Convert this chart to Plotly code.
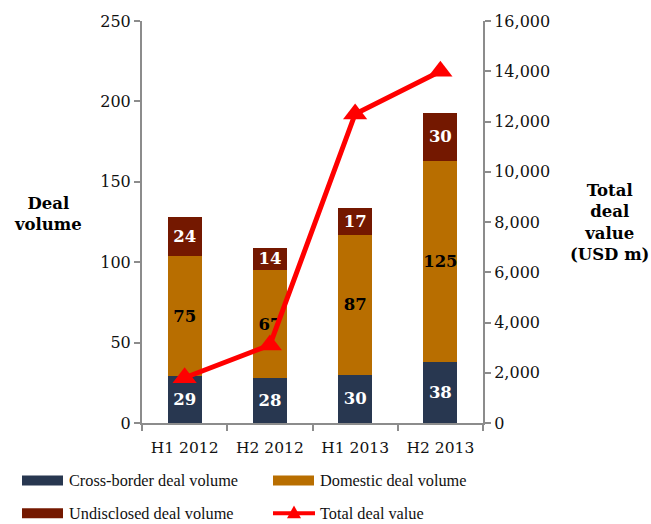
import plotly.graph_objects as go

# Half-year periods
periods = ["H1 2012", "H2 2012", "H1 2013", "H2 2013"]

# Deal volume by type (number of deals)
cross_border = [29, 28, 30, 38]
domestic = [75, 67, 87, 125]
undisclosed = [24, 14, 17, 30]

# Total deal value, USD m
total_value = [1800, 3100, 12300, 14000]

left_ticks = [0, 50, 100, 150, 200, 250]
right_ticks = [0, 2000, 4000, 6000, 8000, 10000, 12000, 14000, 16000]

NAVY = "#283750"
ORANGE = "#B86E00"
MAROON = "#741800"
RED = "#FF0000"
AXIS = "#8C8C8C"
SERIF = "DejaVu Serif, Georgia, serif"
LEGEND_FONT = "Liberation Serif, Times New Roman, serif"

fig = go.Figure()

for name, vals, col, txtcol in [
    ("Cross-border deal volume", cross_border, NAVY, "white"),
    ("Domestic deal volume", domestic, ORANGE, "black"),
    ("Undisclosed deal volume", undisclosed, MAROON, "white"),
]:
    fig.add_trace(go.Bar(
        x=periods, y=vals, name=name, marker=dict(color=col, line=dict(width=0)),
        width=0.4, text=vals, texttemplate="%{text}", textposition="inside",
        insidetextanchor="middle", textangle=0,
        textfont=dict(family=SERIF, size=16.5, color=txtcol, weight="bold"),
        showlegend=False,
    ))

fig.add_trace(go.Scatter(
    x=periods, y=total_value, name="Total deal value", yaxis="y2",
    mode="lines+markers", line=dict(color=RED, width=5),
    marker=dict(symbol="triangle-up", size=21, color=RED),
    showlegend=False,
))

fig.update_layout(
    width=651, height=524,
    margin=dict(l=142, r=168, t=18, b=101),
    paper_bgcolor="white", plot_bgcolor="white",
    barmode="stack",
    uniformtext=dict(minsize=16.5, mode="show"),
    font=dict(family=SERIF, size=16, color="#111111"),
    xaxis=dict(
        range=[-0.5, 3.5], showline=True, linecolor=AXIS, linewidth=2,
        ticks="outside", tickson="boundaries", ticklen=6, tickcolor=AXIS, tickwidth=2,
        showgrid=False, tickfont=dict(family=SERIF, size=15.5), ticklabelstandoff=9,
    ),
    yaxis=dict(
        range=[0, 250], tickvals=left_ticks, showline=True, linecolor=AXIS, linewidth=2,
        ticks="outside", ticklen=6, tickcolor=AXIS, tickwidth=2, showgrid=False,
        zeroline=False, tickfont=dict(family=SERIF, size=16),
    ),
    yaxis2=dict(
        range=[0, 16000], tickvals=right_ticks, overlaying="y", side="right",
        showline=True, linecolor=AXIS, linewidth=2, ticks="outside", ticklen=6,
        tickcolor=AXIS, tickwidth=2, showgrid=False, zeroline=False,
        tickformat=",d", tickfont=dict(family=SERIF, size=16),
    ),
)

# Axis titles
fig.add_annotation(text="<b>Deal<br>volume</b>", xref="paper", yref="paper",
                   x=-0.275, y=0.52, showarrow=False, xanchor="center",
                   font=dict(family=SERIF, size=16.5, color="black"))
fig.add_annotation(text="<b>Total<br>deal<br>value<br>(USD m)</b>", xref="paper", yref="paper",
                   x=1.37, y=0.50, showarrow=False, xanchor="center",
                   font=dict(family=SERIF, size=16.5, color="black"))

# Legend drawn in pixel-like paper coordinates below the plot
pw = 651 - 142 - 168
ph = 524 - 18 - 101


def px(xp):
    return (xp - 142) / pw


def py(yp):
    return (524 - 101 - yp) / ph


legend_items = [
    ("Cross-border deal volume", NAVY, 22, 481, "bar"),
    ("Domestic deal volume", ORANGE, 273, 481, "bar"),
    ("Undisclosed deal volume", MAROON, 22, 514, "bar"),
    ("Total deal value", RED, 273, 514, "line"),
]
for label, col, x0, yc, kind in legend_items:
    if kind == "bar":
        fig.add_shape(type="rect", xref="paper", yref="paper",
                      x0=px(x0), x1=px(x0 + 41), y0=py(yc + 5), y1=py(yc - 5),
                      fillcolor=col, line=dict(width=0))
    else:
        fig.add_shape(type="line", xref="paper", yref="paper",
                      x0=px(x0), x1=px(x0 + 42), y0=py(yc), y1=py(yc),
                      line=dict(color=col, width=4))
        cx = x0 + 21
        fig.add_shape(type="path", xref="paper", yref="paper",
                      path=f"M {px(cx - 7)} {py(yc + 5)} L {px(cx + 7)} {py(yc + 5)} L {px(cx)} {py(yc - 8)} Z",
                      fillcolor=col, line=dict(width=0))
    fig.add_annotation(text=label, xref="paper", yref="paper",
                       x=px(x0 + 45), y=py(yc), xanchor="left", yanchor="middle",
                       showarrow=False,
                       font=dict(family=LEGEND_FONT, size=16.3, color="#111111"))

fig.write_html("out.html")
